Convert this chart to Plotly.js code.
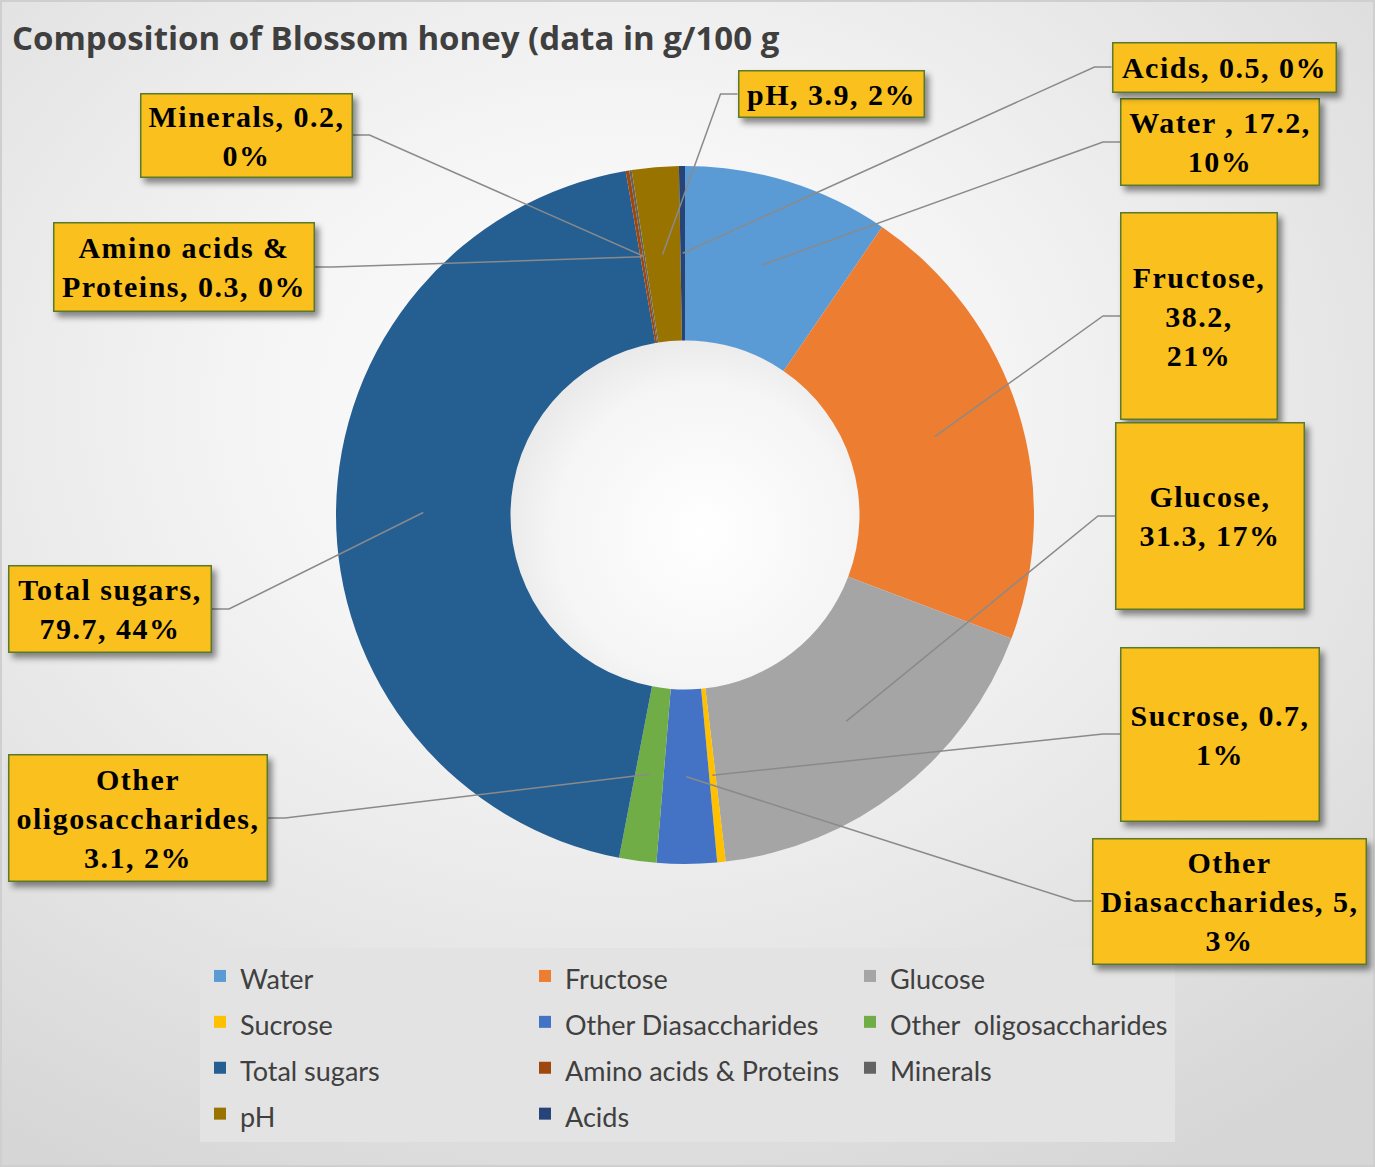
<!DOCTYPE html>
<html>
<head>
<meta charset="utf-8">
<script src="https://cdn.plot.ly/plotly-3.0.1.min.js"></script>
<style>
html,body{margin:0;padding:0;background:#d8d8d8;}
#wrap{position:relative;width:1375px;height:1167px;overflow:hidden;box-sizing:border-box;
  box-shadow:inset 0 0 0 2px #cfcfcf;
  background:radial-gradient(ellipse 80% 75% at 45% 35%, #ffffff 0%, #f4f4f4 35%, #e4e4e4 70%, #d6d6d6 100%);}
#hole{position:absolute;left:510px;top:340px;width:350px;height:350px;border-radius:50%;
  background:radial-gradient(circle at 55% 55%, #ffffff 0%, #f5f5f5 55%, #d8d8d8 100%);}
#chart{position:absolute;left:0;top:0;width:1375px;height:1167px;}
.annotation rect.bg{filter:drop-shadow(4px 5px 3px rgba(0,0,0,0.45));}
.annotation text.annotation-text{letter-spacing:1.5px;}
</style>
</head>
<body>
<div id="wrap"><div id="hole"></div><div id="chart"></div></div>
<script>
// ---------------- data ----------------
const labels = ["Water", "Fructose", "Glucose", "Sucrose", "Other Diasaccharides",
  "Other\u00a0 oligosaccharides", "Total sugars", "Amino acids & Proteins", "Minerals", "pH", "Acids"];
const values = [17.2, 38.2, 31.3, 0.7, 5, 3.1, 79.7, 0.3, 0.2, 3.9, 0.5];
const pctLabels = ["10%", "21%", "17%", "1%", "3%", "2%", "44%", "0%", "0%", "2%", "0%"];
const boxNames = ["Water ", "Fructose", "Glucose", "Sucrose", "Other<br>Diasaccharides",
  "Other<br>oligosaccharides", "Total sugars", "Amino acids &<br>Proteins", "Minerals", "pH", "Acids"];
const boxSeps = [[" ", "<br>"], ["<br>", "<br>"], ["<br>", " "], [" ", "<br>"], [" ", "<br>"],
  ["<br>", " "], ["<br>", " "], [" ", " "], [" ", "<br>"], [" ", " "], [" ", " "]];
const colors = ["#5B9BD5", "#ED7D31", "#A5A5A5", "#FFC000", "#4472C4", "#70AD47",
  "#255E91", "#9E480E", "#636363", "#997300", "#264478"];
const titleText = "Composition of Blossom honey (data in g/100 g";

// ---------------- layout geometry (styling) ----------------
const W = 1375, H = 1167;
const M = {l: 190, r: 185, t: 0, b: 0};
const CX = 685, CY = 515, R = 349, HOLE = 0.5;
const toPX = px => (px - M.l) / (W - M.l - M.r);
const toPY = py => 1 - (py - M.t) / (H - M.t - M.b);
// label boxes: center x, center y, width, height, side the leader attaches to
const boxGeom = [
  [1220, 142, 200, 88, 'L'],
  [1199, 316, 158, 208, 'L'],
  [1210, 516, 190, 188, 'L'],
  [1220, 734, 200, 175, 'L'],
  [1229, 901, 275, 127, 'L'],
  [138, 818, 260, 128, 'R'],
  [110, 609, 204, 88, 'R'],
  [184, 267, 262, 90, 'R'],
  [246, 135, 213, 85, 'R'],
  [831, 94, 187, 48, 'L'],
  [1224, 67, 225, 51, 'L']
];
const STUB = 17, BW = 1.5;

// slice midpoints on the ring's center line, from the data
const total = values.reduce((a, b) => a + b, 0);
let cum = 0;
const tips = values.map(v => {
  const mid = (cum + v / 2) / total; cum += v;
  const th = mid * 2 * Math.PI, r = R * (1 + HOLE) / 2;
  return [CX + r * Math.sin(th), CY - r * Math.cos(th)];
});

const shapes = [], annotations = [];
values.forEach((v, i) => {
  const [cx, cy, w, h, side] = boxGeom[i];
  const ex = side === 'L' ? cx - w / 2 : cx + w / 2;
  const sx = side === 'L' ? ex - STUB : ex + STUB;
  const [tx, ty] = tips[i];
  shapes.push({
    type: 'path', xref: 'paper', yref: 'paper', layer: 'above',
    path: `M${toPX(tx)},${toPY(ty)} L${toPX(sx)},${toPY(cy)} L${toPX(ex)},${toPY(cy)}`,
    line: {color: '#8a8a8a', width: 1.5}
  });
  const text = boxNames[i] + "," + boxSeps[i][0] + String(v) + "," + boxSeps[i][1] + pctLabels[i];
  annotations.push({
    xref: 'paper', yref: 'paper', x: toPX(cx), y: toPY(cy), xanchor: 'center', yanchor: 'middle',
    showarrow: false, text: text, align: 'center', valign: 'middle',
    width: w - 2 * BW, height: h - 2 * BW, borderpad: 0,
    bgcolor: '#F9C01E', bordercolor: '#5A7A2A', borderwidth: BW,
    font: {family: 'Liberation Serif, Times New Roman, serif', size: 30, color: '#000000', weight: 'bold'}
  });
});

const trace = {
  type: 'pie', labels: labels.map(l => `<span style="font-size:27px">${l}</span>`), values: values,
  sort: false, direction: 'clockwise', rotation: 0, hole: HOLE,
  marker: {colors: colors, line: {width: 0}},
  textinfo: 'none', hoverinfo: 'label+value+percent',
  domain: {x: [toPX(CX - R), toPX(CX + R)], y: [toPY(CY + R), toPY(CY - R)]}
};

const layout = {
  width: W, height: H, margin: M,
  paper_bgcolor: 'rgba(0,0,0,0)', plot_bgcolor: 'rgba(0,0,0,0)',
  title: {text: titleText, xref: 'container', yref: 'container', x: 12 / W, xanchor: 'left',
    y: 1 - 38 / H, yanchor: 'middle',
    font: {family: 'Open Sans, sans-serif', size: 33, color: '#3F3F3F', weight: 'bold'}},
  showlegend: true,
  legend: {orientation: 'h', x: toPX(200), xanchor: 'left', y: toPY(948), yanchor: 'top',
    bgcolor: '#E3E3E3', borderwidth: 0, traceorder: 'normal',
    entrywidth: 280, entrywidthmode: 'pixels',
    font: {family: 'Lato, sans-serif', size: 33, color: '#404040'}},
  shapes: shapes, annotations: annotations
};

Plotly.newPlot('chart', [trace], layout, {displayModeBar: false, staticPlot: true});
</script>
</body>
</html>
